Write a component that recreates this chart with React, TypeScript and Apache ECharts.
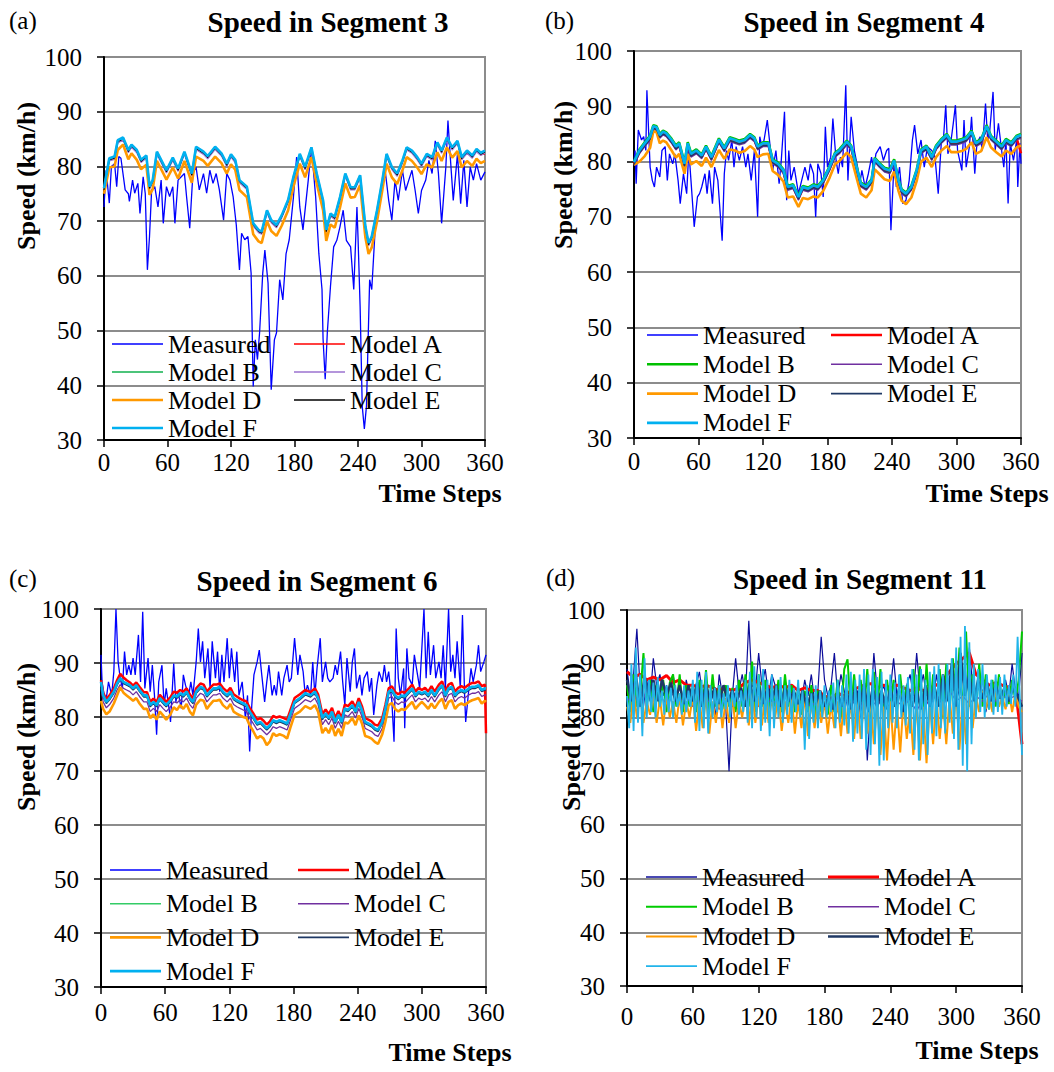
import React, { useEffect, useRef } from 'react';
import * as echarts from 'echarts';

const FONT = "'Liberation Serif', 'Times New Roman', serif";

// ---------------- Panel (a): Segment 3 ----------------
const segA_t = [0,5,10,13,18,23,26,31,35,40,43,46,50,54,59,65,70,76,83,87,94,98,105,111,116,120,124,128,135,141,146,149,154,158,163,168,174,179,185,190,196,201,207,210,214,218,223,228,233,237,242,247,250,253,258,263,267,272,277,282,286,291,296,300,305,310,315,319,324,329,334,338,343,348,352,356,360];
const segA_F = [76,81.5,81.8,84.8,85.3,83,84,83,81.2,82,76.3,77.5,82.7,81.2,79.3,81.6,79.6,82.7,78.7,83.6,82.7,81.9,83.6,82.4,80.5,82.2,81.2,77.5,76.3,69.6,68.4,68.1,72,70.2,69.3,71.1,73.9,78.1,82.3,79.9,83.5,78.7,73.8,68.4,71.4,70.8,74.4,78.7,76.2,76.2,78.4,69,66,67.2,72,77.5,82.3,79.9,78.7,81.1,83.5,82.9,81.7,80.5,82.3,81.7,84.4,82.9,85.3,83.5,84.7,81.7,82.9,82,83.2,82.5,82.9];
const segA_D = [75,79.8,80,83,84,81.3,82.4,81.2,79.5,80.3,74.8,75.8,81,79.5,77.6,79.8,77.8,81,77,81.8,81,80.1,81.8,80.6,78.7,80.4,79.4,75.7,74.4,67.6,66.3,66,70,68.2,67.3,69.2,72,76.3,80.5,78,81.7,76.9,72,66.4,69.4,68.8,72.5,76.9,74.3,74.4,76.6,67,64,65.2,70,75.7,80.5,78,76.8,79.3,81.7,81,79.8,78.6,80.4,79.8,82.6,81,83.5,81.6,82.8,79.8,81,80.1,81.4,80.6,81];
const segA_A = [75.8,81.3,81.5,84.5,85.1,82.8,83.7,82.8,81,81.7,76.1,77.2,82.5,80.9,79.1,81.4,79.3,82.5,78.5,83.3,82.5,81.6,83.4,82.1,80.3,82,80.9,77.3,76,69.4,68.1,67.9,71.7,70,69,70.9,73.6,77.9,82,79.7,83.2,78.5,73.5,68.2,71.1,70.6,74.1,78.5,75.9,76,78.1,68.8,65.7,67,71.7,77.3,82,79.7,78.4,80.9,83.2,82.7,81.4,80.3,82,81.5,84.1,82.7,85,83.3,84.4,81.5,82.6,81.8,82.9,82.3,82.2];
const segA_B = [75.9,81.4,81.7,84.7,85.2,82.9,83.9,82.9,81.1,81.9,76.2,77.4,82.6,81.1,79.2,81.5,79.5,82.6,78.6,83.5,82.6,81.8,83.5,82.3,80.4,82.1,81.1,77.4,76.2,69.5,68.3,68,71.9,70.1,69.2,71,73.8,78,82.2,79.8,83.4,78.6,73.7,68.3,71.3,70.7,74.3,78.6,76.1,76.1,78.3,68.9,65.9,67.1,71.9,77.4,82.2,79.8,78.6,81,83.4,82.8,81.6,80.4,82.2,81.6,84.3,82.8,85.2,83.4,84.6,81.6,82.8,81.9,83.1,82.4,82.8];
const segA_C = [75.6,81,81.3,84.3,84.8,82.5,83.5,82.5,80.7,81.5,75.8,77,82.2,80.7,78.8,81.1,79.1,82.2,78.2,83.1,82.2,81.4,83.1,81.9,80,81.7,80.7,77,75.8,69.1,67.9,67.6,71.5,69.7,68.8,70.6,73.4,77.6,81.8,79.4,83,78.2,73.3,67.9,70.9,70.3,73.9,78.2,75.7,75.7,77.9,68.5,65.5,66.7,71.5,77,81.8,79.4,78.2,80.6,83,82.4,81.2,80,81.8,81.2,83.9,82.4,84.8,83,84.2,81.2,82.4,81.5,82.7,82,82.4];
const segA_E = [75.7,81.2,81.5,84.5,85,82.7,83.7,82.7,80.9,81.7,76,77.2,82.4,80.9,79,81.3,79.3,82.4,78.4,83.3,82.4,81.6,83.3,82.1,80.2,81.9,80.9,77.2,76,69.3,68.1,67.8,71.7,69.9,69,70.8,73.6,77.8,82,79.6,83.2,78.4,73.5,68.1,71.1,70.5,74.1,78.4,75.9,75.9,78.1,68.7,65.7,66.9,71.7,77.2,82,79.6,78.4,80.8,83.2,82.6,81.4,80.2,82,81.4,84.1,82.6,85,83.2,84.4,81.4,82.6,81.7,82.9,82.2,82.6];
const segA_measured = [[0,72.6],[2,79.3],[5,73.3],[7,80],[10,80.5],[12,76.3],[14,81.8],[16,81.5],[20,75.7],[23,75],[24,73.6],[27,77.5],[29,75.1],[32,76.9],[34,71.4],[37,78.1],[39,75],[41,61.1],[43,67.2],[45,75.7],[48,76.3],[51,72.6],[54,77.5],[56,69.6],[59,76.3],[62,74.5],[65,76.3],[67,69.6],[70,77.5],[73,78.1],[76,78.7],[78,74.5],[81,68.7],[84,78.7],[87,79.9],[90,75.7],[94,78.7],[97,75.1],[100,79.3],[103,76.9],[106,78.7],[109,75.7],[113,70.2],[116,78.7],[119,77.5],[122,74.5],[125,69.3],[128,61.1],[130,67.8],[133,66.6],[136,67.2],[139,60.5],[141,39.8],[143,48.3],[145,44.7],[147,49.6],[150,60.5],[152,64.7],[155,58.7],[158,39.2],[161,48.3],[163,49.6],[166,59.3],[169,55.6],[172,64],[175,66.6],[179,74.4],[182,81.7],[185,72.6],[188,68.4],[193,77.5],[196,83.5],[200,74.4],[203,64.1],[206,57.5],[207,48.4],[209,41.1],[211,49.6],[214,58.1],[217,65.3],[220,66.5],[223,69],[226,72],[229,66.5],[233,65.3],[236,57.5],[239,72.6],[240,67.2],[242,54.4],[244,36.2],[246,32],[248,36.2],[251,59.3],[253,57.5],[256,67.8],[259,72.6],[263,76.3],[266,78.7],[269,73.8],[272,70.2],[275,77.5],[278,73.8],[282,79.3],[285,75.6],[288,77.5],[291,79.3],[294,75.6],[297,71.4],[300,75.6],[304,77.5],[307,81.1],[310,78.7],[313,84.7],[316,78.7],[319,69.6],[323,79.9],[325,88.4],[327,82.3],[330,73.8],[334,82.3],[337,73.2],[340,81.1],[343,72.6],[346,79.9],[349,77.5],[352,80.5],[356,77.5],[360,79]];

// ---------------- Panel (b): Segment 4 ----------------
const segB_t = [0,5,10,15,18,21,24,27,30,35,39,42,47,50,53,58,63,67,72,79,84,89,94,98,103,108,112,115,120,125,129,134,139,143,148,153,157,162,167,171,176,182,187,191,198,202,207,211,216,221,224,228,233,238,242,246,249,253,258,263,267,272,277,281,286,291,295,300,305,309,314,318,323,328,332,337,342,346,351,356,360];
const segB_F = [79.9,82,83.3,84.5,86.4,86.2,84.8,85.4,85.1,83.9,82.7,83.3,79.6,83.3,81.4,82,81.1,82.7,80.8,84,82.4,84.2,83.9,83.6,83.9,84.8,84.2,82.7,83.3,83.3,80.2,79.6,78.4,75.4,75.7,73.6,75.4,75.1,75.7,75.4,76.6,79,81.4,82,83.6,82.7,79,76,75.4,76.6,80.5,79.6,78.7,78.4,80.2,76.6,74.8,74.2,75.4,78.4,82,82.7,80.8,82.7,83.9,84.8,83.6,83.6,83.9,84.2,85.4,83.3,83.9,86.4,84.5,83.6,82.7,83.9,83.3,84.5,84.8];
const segB_D = [79.4,80,81,82.5,85.5,85.3,83.3,83.8,83.5,82,80.7,81.4,77.8,81.4,79.5,80.1,79.2,80.7,79,82.1,80.5,82.2,82,81.6,81.9,82.8,82.2,80.8,81.3,81.4,78.3,77.6,76.4,73.5,73.7,71.8,73.4,73.2,73.7,73.5,74.7,77.1,79.5,80.1,81.6,80.8,77.1,74.2,73.5,74.8,78.6,77.8,76.8,76.5,78.2,74.7,72.9,72.3,73.5,76.5,80,80.7,79,80.8,82,82.8,81.7,81.7,81.9,82.3,83.5,81.4,81.9,84.4,82.6,81.7,80.9,82,81.4,82.6,82.9];
const segB_A = [79.6,81.7,83,84.2,86.1,85.9,84.5,85.1,84.8,83.6,82.4,83,79.3,83,81.1,81.7,80.8,82.4,80.5,83.7,82.1,83.9,83.6,83.3,83.6,84.5,83.9,82.4,83,83,79.9,79.3,78.1,75.1,75.4,73.3,75.1,74.8,75.4,75.1,76.3,78.7,81.1,81.7,83.3,82.4,78.7,75.7,75.1,76.3,80.2,79.3,78.4,78.1,79.9,76.3,74.5,73.9,75.1,78.1,81.7,82.4,80.5,82.4,83.6,84.5,83.3,83.3,83.6,83.9,85.1,83,83.6,86.1,84.2,83.3,82.4,83.6,83,84.2,81.5];
const segB_B = [80,82.2,83.5,84.7,86.6,86.4,85,85.6,85.3,84.1,82.9,83.5,79.8,83.5,81.6,82.2,81.3,82.9,81,84.2,82.6,84.4,84.1,83.8,84.1,85,84.4,82.9,83.5,83.5,80.4,79.8,78.6,75.6,75.9,73.8,75.6,75.3,75.9,75.6,76.8,79.2,81.6,82.2,83.8,82.9,79.2,76.2,75.6,76.8,80.7,79.8,78.9,78.6,80.4,76.8,75,74.4,75.6,78.6,82.2,82.9,81,82.9,84.1,85,83.8,83.8,84.1,84.4,85.6,83.5,84.1,86.6,84.7,83.8,82.9,84.1,83.5,84.7,85];
const segB_C = [79.3,81.4,82.7,83.9,85.8,85.6,84.2,84.8,84.5,83.3,82.1,82.7,79,82.7,80.8,81.4,80.5,82.1,80.2,83.4,81.8,83.6,83.3,83,83.3,84.2,83.6,82.1,82.7,82.7,79.6,79,77.8,74.8,75.1,73,74.8,74.5,75.1,74.8,76,78.4,80.8,81.4,83,82.1,78.4,75.4,74.8,76,79.9,79,78.1,77.8,79.6,76,74.2,73.6,74.8,77.8,81.4,82.1,80.2,82.1,83.3,84.2,83,83,83.3,83.6,84.8,82.7,83.3,85.8,83.9,83,82.1,83.3,82.7,83.9,84.2];
const segB_E = [79.5,81.6,82.9,84.1,86,85.8,84.4,85,84.7,83.5,82.3,82.9,79.2,82.9,81,81.6,80.7,82.3,80.4,83.6,82,83.8,83.5,83.2,83.5,84.4,83.8,82.3,82.9,82.9,79.8,79.2,78,75,75.3,73.2,75,74.7,75.3,75,76.2,78.6,81,81.6,83.2,82.3,78.6,75.6,75,76.2,80.1,79.2,78.3,78,79.8,76.2,74.4,73.8,75,78,81.6,82.3,80.4,82.3,83.5,84.4,83.2,83.2,83.5,83.8,85,82.9,83.5,86,84.1,83.2,82.3,83.5,82.9,84.1,84.4];
const segB_measured = [[0,80],[1,82],[2,76],[4,85.7],[7,83.9],[9,84.5],[11,82],[12,92.9],[15,79],[17,76.6],[19,75.4],[21,79],[24,77.2],[26,82],[29,82.7],[31,76.6],[33,81.4],[36,79.6],[38,81.4],[41,76.6],[43,72.4],[46,77.8],[49,74.2],[51,82],[53,76.6],[56,68.2],[59,73.6],[61,74.2],[63,75.4],[66,77.8],[68,74.2],[70,78.4],[73,72.4],[75,79],[78,76.6],[82,65.7],[84,77.8],[86,82],[88,80.2],[91,83.9],[93,79],[95,82.7],[98,80.2],[101,82.7],[104,79],[106,81.4],[109,76.6],[112,82],[115,70],[117,84.5],[119,82.7],[121,83.9],[124,87.5],[126,83.9],[129,78.4],[132,82],[135,76],[137,80.2],[140,89],[142,73],[144,82],[146,76.6],[149,79],[153,74.2],[156,76.6],[159,79],[162,76.6],[164,79.6],[167,77.8],[169,70],[171,79.6],[174,77.8],[176,73.6],[178,86.3],[180,79],[183,80.8],[185,87.8],[188,80.2],[190,77.8],[192,80.8],[194,79],[197,93.8],[199,76.6],[202,88.1],[205,82],[208,79],[210,76],[212,78.4],[215,75.4],[218,77.8],[221,80.8],[223,78.4],[225,81.4],[229,82.7],[232,80.2],[235,82],[237,82.4],[239,67.6],[242,80.2],[244,75.4],[247,79],[250,72.4],[253,73],[256,76.6],[259,83.9],[261,86.6],[264,81.4],[267,83.9],[270,79],[273,82.7],[277,82],[280,80.8],[283,74.2],[286,83.9],[288,84.5],[290,90.2],[292,81.4],[295,83.9],[297,86.9],[299,90.2],[301,82],[305,78.4],[307,87.5],[309,79],[312,82.7],[314,88.1],[317,77.8],[319,83.3],[322,84.5],[324,82],[327,90.5],[329,83.9],[331,85.7],[334,92.6],[336,82],[339,86.9],[342,82],[344,79],[346,83.9],[348,72.4],[350,83.3],[353,80.2],[356,83.9],[357,75.4],[359,83.3],[360,79.6]];

// ---------------- Panel (c): Segment 6 ----------------
const segC_t = [0,2,5,8,12,15,18,21,24,27,30,33,36,40,43,46,49,52,55,58,61,65,68,71,74,77,80,83,86,89,93,96,99,102,105,108,111,114,118,121,124,127,130,133,136,139,142,146,149,152,155,158,161,164,167,171,174,177,181,186,191,196,200,203,207,210,213,216,219,222,225,228,231,235,238,241,244,247,250,253,256,259,263,266,269,272,275,278,281,284,288,291,294,297,300,303,306,309,312,316,319,322,325,328,331,334,337,340,344,347,350,353,356,359,360];
const segC_F = [86.5,84,82.8,83.5,84.7,86.2,87.2,86.5,86.2,85.9,85.3,85.9,85,84,84,82.2,82.8,82.2,83.5,82.8,82.2,83.1,84,83.8,84.4,84,84.7,83.5,82.8,84.7,85.6,85.3,84,84.7,85.3,85.3,85.6,84.7,84,84.7,83.5,83.1,82.8,82.5,82.2,81,80.1,78.8,79.1,78.5,77.9,78.5,79.4,79.1,79.4,79.1,78.8,80.5,82.8,83.5,84.4,84,84.7,83.5,79.8,80.7,79.8,81,79.1,80.4,79.1,81.6,81.3,82.2,81,82.8,81.3,79.1,78.8,78.5,77.9,77.6,79.1,81.6,84.7,85,84,83.5,84,83.8,84.7,85.3,84,84.7,84.4,84.7,84,85,84,85.3,85.9,84,85.3,85.6,84,84.7,85,84.7,85.3,85.6,85.6,85.9,85,85.3,85.3];
const segC_D = [83,81.5,80.5,81,82.5,84,85.5,84.5,84,83.5,83,83.5,82.5,81.5,81.5,79.8,80.5,79.5,81,80.3,79.5,80.5,81.8,81.3,82.2,81.5,82.4,81,80.3,82.3,83.2,83,81.5,82.3,83,83,83.2,82.2,81.5,82.4,81,80.6,80.3,80,79.8,78.5,77.5,76,76.5,76,74.8,75.5,77,76.5,76.8,76.5,76,78,80.4,81,82,81.5,82.2,81,77,78,77,78.5,76.5,77.8,76.5,79,78.8,79.8,78.5,80.3,78.8,76.5,76.3,76,75.4,75,76.8,79.2,82.2,82.6,81.5,81,81.5,81.3,82.2,82.8,81.5,82.2,82.8,82.2,81.5,82.5,81.6,82.8,83.4,81.5,82.8,83.1,81.5,82.2,82.5,82.2,82.8,83.1,83.3,83.5,82.5,83,82.8];
const segC_A = [86.8,84.5,83.3,84,85.3,86.8,88,87.3,86.8,86.4,85.8,86.4,85.6,84.6,84.6,82.8,83.4,82.8,84.1,83.4,82.8,83.7,84.7,84.5,85,84.7,85.3,84.2,83.4,85.3,86.2,86,84.7,85.4,86,86,86.2,85.4,84.7,85.4,84.2,83.8,83.4,83.1,82.9,81.7,80.8,79.5,79.8,79.3,78.6,79.2,80.2,79.9,80.1,79.8,79.5,81.2,83.5,84.2,85,84.6,85.3,84.2,80.5,81.4,80.5,81.7,79.8,81.1,79.8,82.3,82,82.9,81.7,83.5,82,79.8,79.5,79.2,78.6,78.4,79.8,82.3,85.3,85.7,84.6,84.2,84.7,84.5,85.3,86,84.7,85.4,85,85.4,84.7,85.7,84.7,86,86.6,84.7,86,86.3,84.7,85.4,85.7,85.4,86,86.3,86.3,86.6,85.7,86,77];
const segC_B = [86.3,83.9,82.6,83.3,84.5,86,87,86.3,86,85.7,85.1,85.7,84.8,83.8,83.8,82,82.6,82,83.3,82.6,82,82.9,83.8,83.6,84.2,83.8,84.5,83.3,82.6,84.5,85.4,85.1,83.8,84.5,85.1,85.1,85.4,84.5,83.8,84.5,83.3,82.9,82.6,82.3,82,80.8,79.9,78.6,78.9,78.3,77.7,78.3,79.2,78.9,79.2,78.9,78.6,80.3,82.6,83.3,84.2,83.8,84.5,83.3,79.6,80.5,79.6,80.8,78.9,80.2,78.9,81.4,81.1,82,80.8,82.6,81.1,78.9,78.6,78.3,77.7,77.4,78.9,81.4,84.5,84.8,83.8,83.3,83.8,83.6,84.5,85.1,83.8,84.5,84.2,84.5,83.8,84.8,83.8,85.1,85.7,83.8,85.1,85.4,83.8,84.5,84.8,84.5,85.1,85.4,85.4,85.7,84.8,85.1,85.1];
const segC_C = [85.3,82.8,81.7,82.3,83.5,85,86,85.3,85,84.7,84.1,84.7,83.8,82.8,82.8,81,81.6,81,82.3,81.6,81,81.9,82.8,82.6,83.2,82.8,83.5,82.3,81.6,83.5,84.4,84.1,82.8,83.5,84.1,84.1,84.4,83.5,82.8,83.5,82.3,81.9,81.6,81.3,81,79.8,78.9,77.6,77.9,77.3,76.7,77.3,78.2,77.9,78.2,77.9,77.6,79.3,81.6,82.3,83.2,82.8,83.5,82.3,78.6,79.5,78.6,79.8,77.9,79.2,77.9,80.4,80.1,81,79.8,81.6,80.1,77.9,77.6,77.3,76.7,76.4,77.9,80.4,83.5,83.8,82.8,82.3,82.8,82.6,83.5,84.1,82.8,83.5,83.2,83.5,82.8,83.8,82.8,84.1,84.7,82.8,84.1,84.4,82.8,83.5,83.8,83.5,84.1,84.4,84.4,84.7,83.8,84.1,84.1];
const segC_E = [86.2,83.7,82.5,83.2,84.4,85.9,86.9,86.2,85.9,85.6,85,85.6,84.7,83.7,83.7,81.9,82.5,81.9,83.2,82.5,81.9,82.8,83.7,83.5,84.1,83.7,84.4,83.2,82.5,84.4,85.3,85,83.7,84.4,85,85,85.3,84.4,83.7,84.4,83.2,82.8,82.5,82.2,81.9,80.7,79.8,78.5,78.8,78.2,77.6,78.2,79.1,78.8,79.1,78.8,78.5,80.2,82.5,83.2,84.1,83.7,84.4,83.2,79.5,80.4,79.5,80.7,78.8,80.1,78.8,81.3,81,81.9,80.7,82.5,81,78.8,78.5,78.2,77.6,77.3,78.8,81.3,84.4,84.7,83.7,83.2,83.7,83.5,84.4,85,83.7,84.4,84.1,84.4,83.7,84.7,83.7,85,85.6,83.7,85,85.3,83.7,84.4,84.7,84.4,85,85.3,85.3,85.6,84.7,85,85];
const segC_measured = [[0,91.5],[1,86.5],[3,84],[5,83.5],[7,86.5],[10,84],[12,88.4],[14,100],[16,90.2],[18,87.2],[20,85.3],[22,92.1],[24,87.8],[26,89.6],[28,87.8],[30,90.9],[32,87.8],[35,95.2],[37,86.5],[39,99.5],[41,85.3],[44,90.9],[46,84.7],[48,89.6],[50,84],[52,76.7],[54,86.5],[57,89.6],[59,82.2],[61,85.3],[64,81],[65,79.1],[68,89.9],[70,82.8],[72,84.7],[75,81.6],[77,87.8],[79,85.9],[82,84],[84,86.5],[86,84],[89,90.2],[91,96.4],[93,90.2],[95,94],[97,87.2],[100,92.7],[102,85.3],[104,94],[107,87.2],[109,92.1],[111,84.7],[113,91.5],[115,86.5],[118,94.6],[120,87.2],[122,92.7],[125,86.5],[127,92.1],[129,84],[132,86.5],[135,79.8],[137,84],[139,73.6],[141,82.2],[143,87.8],[146,90.2],[148,92.4],[150,88.4],[153,82.8],[155,86.5],[157,89.6],[160,84],[162,85.9],[164,84],[166,88.4],[169,84],[171,87.2],[174,89.6],[176,86.5],[178,87.2],[181,94.6],[184,87.8],[186,91.5],[189,88.4],[191,84],[193,85.9],[196,84],[198,90.2],[200,84],[202,89],[205,94.6],[207,86.5],[210,90.2],[212,87.2],[214,86.5],[217,87.2],[219,89.6],[221,87.8],[224,92.1],[226,86.5],[228,82.2],[230,90.9],[233,84.7],[235,90.2],[237,92.7],[239,85.3],[242,87.8],[244,84],[246,87.2],[249,88.4],[251,84.7],[253,87.2],[255,80.4],[258,85.9],[260,88.4],[263,86.5],[265,89.6],[267,86.5],[269,88.4],[272,82.8],[274,75.4],[276,96.4],[278,87.2],[280,84],[283,89],[284,77.9],[286,92.7],[288,87.2],[291,85.9],[293,91.5],[295,89],[298,85.3],[300,92.7],[302,100],[304,87.2],[306,95.8],[308,87.8],[311,93.3],[313,87.2],[316,90.2],[318,87.2],[320,93.3],[322,85.3],[325,100],[327,88.4],[329,91.5],[331,87.2],[333,94],[336,85.3],[338,98.9],[340,84],[341,79.1],[344,85.3],[346,89],[348,86.5],[351,89.6],[353,93.3],[355,88.4],[358,90.2],[360,91.5]];

// ---------------- Panel (d): Segment 11 (regularly sampled) ----------------
const segD_F_step = 2;
const segD_F = [84,78,90,77.5,93,79,88,76.5,91,80,87,81,86.5,80,87.5,82,85,80.5,86,81,85.5,80,86,82,84.5,80.5,86,81,85,82,87,79,88.5,77.5,87,78,88.5,77,86,80,85.5,81,86,80,84.5,81.5,86,80,85,82,86,80.5,85,81,87,79,88.5,78,89.5,80,88,77.5,89,79,87,76.5,88,78,86,80,87.5,79,86,80.5,87,79,85.5,81,87,80,85,74,86,76,84.5,79,86,78,85,80,86,80,85,81,86.5,78,87,79,86,78.5,88,77,88.5,75.5,87,77,88,76,89,74,88,73,89,75,87.5,71,88.5,72,87,78,88,79,86.5,78,88,80,86,78.5,87.5,77,89,74,88,72,89,75,87,73,88.5,77,89.5,76.5,90,78,88,77,90,79,91,76,93,74,95,71,97,70,94,75,90,80,89,81,90,80,88,81.5,87,80.5,88,81,87.5,80.5,88,82,86,82.5,88,82,95,84,73];
const segD_D_step = 3;
const segD_D = [82,79,85,80,84.5,79,83,80.5,84,79,83.5,78.5,84,80,83,79,84,78.5,83,80,84,77.5,83.5,78,84,77,83,79,84,78,83.5,79,84,78,83,80,84.5,78.5,85,79,84,78.5,85,79,83.5,80,84,77.5,83,79,84,77,83,78,84,76.5,83,78,83.5,79,83,77,82.5,78,83,76.5,84,77,83,76,84,76,83,77,83.5,75,83,73,82,72,83,74,82.5,73.5,83,76,82,73,83,72,82,71.5,83,75,84,76,83,75,84,77,85,74,84,75,85,78,84,81,85,81.5,84.5,81,85,82,84,81.5,85,81,84.5,82,81];
const segD_B_step = 3;
const segD_B = [86,81,88,82,84,92,82,87,81,86,82,87,81,86.5,88,82,88,81,86,82,86,81,87,82,88.8,81,88,82,86,81.5,86,82,85.5,81,87,82,88,82,90.4,81,88,82,87,81.5,86,82,87,81,88,82,86,81,85.5,80.5,85,81,86,80,85,81,85,80.5,86,81,87,80,89,90.8,81,88,82,87,81,89,80,88.5,81,89,80,87,82,87,81,88,82,86,80,89,81,89.5,80,90,81,88,82,89,80,90,81,91,82,93,80,96,82,88,81,90,82,88,81.5,87,82,88,82,86,82.5,87,83,87,96];
const segD_A_step = 6;
const segD_A = [88.5,87.5,88,87,87.5,87,87.8,86.5,87,86,86,85.5,86,85.5,85,85.5,85,85.5,86.5,87,86.5,86,85.5,86,85.5,86,85,85.5,85,85,84,83.5,84.5,84,85,85.5,86,86.3,85.5,86,85.5,86,85.5,85,85.5,85,85.5,86,87,88.5,90,91,92,88,87,86,86.5,86,85.6,85.5,75];
const segD_E_step = 4;
const segD_E = [87,83,88,82,87.5,84,87,83,87,84,86.5,83,86,82.5,86,83,86.5,82,86,83,85.5,82.5,86,83,85,83,85.5,82,86.5,83,86,82.5,85.5,83,86,82,85.5,83,85,82.5,85,82,84.5,82.5,85,82,84,81.5,84.5,82,85,81.5,85.5,82,86,81,85.5,82,85,81.5,85.5,82,85,81,85.5,82,85,81.5,86,82,86,82,88,83,90,82,92,84,88,83,87,83.5,86.5,83,86,83.5,85.5,83,85.5,84,82];
const segD_C_step = 6;
const segD_C = [83,84.5,82,85,83,84,82.5,84.5,83,84,82,83.5,82.5,84,81.5,83.5,82,84,82.5,84.5,82,84,82.5,83.5,82,84,81.5,83,82,83.5,81.5,83,81,83.5,82,84,81.5,83.5,82,84,81.5,83,82,83.5,81,84,82,84.5,82,85,83,84,82.5,84,83,84.5,83,84,83.5,84,83];
const segD_M_step = 3;
const segD_measured = [89,84,88,96.5,85,82,87,83,91,86,88,84,86,83,88,84,86,82,87,84,83,86,88.5,84,87,82,85,80,88,84,82,70,84,91,85,88,84,98,86,85,92,86,89,84,88,86,85,82,87,84,86,82,85,83,87,84,88,83,85,95,87,84,86,92,84,88,85,82,86,84,85,80,86,72,82,92,85,84,86,83,85,91,84,87,83,86,88,84,92,85,88,84,86,83,88,84,86,83,87,85,86,84,88,85,93,86,84,86,85,81,84,86,83,85,84,87,84,90,85,84,92];

// ---------------- Layout / style ----------------
const SERIES_NAMES = ['Measured', 'Model A', 'Model B', 'Model C', 'Model D', 'Model E', 'Model F'];
const LEGEND_COL1 = ['Measured', 'Model B', 'Model D', 'Model F'];
const LEGEND_COL2 = ['Model A', 'Model C', 'Model E'];

const zipT = (ts: number[], vs: number[]) =>
  ts.map((t, i) => [t, vs[i]]).filter((p) => p[1] !== undefined);
const stepped = (vs: number[], step: number) => vs.map((v, i) => [i * step, v]);

const PANELS = [
  {
    key: 'a',
    grid: { left: 104, top: 57, width: 381, height: 383 },
    xMargin: 10,
    label: { text: '(a)', x: 9, y: 20 },
    title: { text: 'Speed in Segment 3', x: 328, y: 22 },
    xName: { x: 440, y: 493 },
    yName: { x: 26, y: 176 },
    legend: { c1: 112, c2: 294, first: 344, pitch: 28 },
    colors: ['#0000ff', '#ff0000', '#4cc47a', '#9b72cf', '#ff9900', '#000000', '#00b0f0'],
    widths: [1.3, 1.3, 2, 1.3, 2.6, 1, 2.6],
    data: [
      segA_measured,
      zipT(segA_t, segA_A),
      zipT(segA_t, segA_B),
      zipT(segA_t, segA_C),
      zipT(segA_t, segA_D),
      zipT(segA_t, segA_E),
      zipT(segA_t, segA_F),
    ],
  },
  {
    key: 'b',
    grid: { left: 634, top: 51, width: 387, height: 387 },
    xMargin: 11,
    label: { text: '(b)', x: 545, y: 20 },
    title: { text: 'Speed in Segment 4', x: 864, y: 22 },
    xName: { x: 987, y: 493 },
    yName: { x: 563, y: 175 },
    legend: { c1: 647, c2: 831, first: 335, pitch: 29.3 },
    colors: ['#0000ff', '#ff0000', '#00c000', '#7030a0', '#ff9900', '#1f3864', '#00b0f0'],
    widths: [1.3, 2.5, 2.5, 1.3, 2.6, 1.5, 2.6],
    data: [
      segB_measured,
      zipT(segB_t, segB_A),
      zipT(segB_t, segB_B),
      zipT(segB_t, segB_C),
      zipT(segB_t, segB_D),
      zipT(segB_t, segB_E),
      zipT(segB_t, segB_F),
    ],
  },
  {
    key: 'c',
    grid: { left: 101, top: 609, width: 385, height: 378 },
    xMargin: 13,
    label: { text: '(c)', x: 9, y: 578 },
    title: { text: 'Speed in Segment 6', x: 317, y: 581 },
    xName: { x: 450, y: 1052 },
    yName: { x: 26, y: 737 },
    legend: { c1: 110, c2: 298, first: 870, pitch: 33.7 },
    colors: ['#0000ff', '#ff0000', '#33cc66', '#7030a0', '#ff9900', '#1f3864', '#00b0f0'],
    widths: [1.3, 2.5, 1.5, 1.3, 2.6, 1.5, 2.6],
    data: [
      segC_measured,
      zipT(segC_t, segC_A),
      zipT(segC_t, segC_B),
      zipT(segC_t, segC_C),
      zipT(segC_t, segC_D),
      zipT(segC_t, segC_E),
      zipT(segC_t, segC_F),
    ],
  },
  {
    key: 'd',
    grid: { left: 627, top: 610, width: 395, height: 376 },
    xMargin: 18,
    label: { text: '(d)', x: 546, y: 577 },
    title: { text: 'Speed in Segment 11', x: 860, y: 579 },
    xName: { x: 977, y: 1050 },
    yName: { x: 571, y: 737 },
    legend: { c1: 646, c2: 828, first: 877, pitch: 29.7 },
    colors: ['#0c0c9a', '#ff0000', '#00cc00', '#7030a0', '#ff9900', '#1f3864', '#22b4ea'],
    widths: [1.2, 3, 2, 1.2, 2, 2.5, 1.8],
    data: [
      stepped(segD_measured, segD_M_step),
      stepped(segD_A, segD_A_step),
      stepped(segD_B, segD_B_step),
      stepped(segD_C, segD_C_step),
      stepped(segD_D, segD_D_step),
      stepped(segD_E, segD_E_step),
      stepped(segD_F, segD_F_step),
    ],
  },
];

function buildOption() {
  const grid: any[] = [];
  const xAxis: any[] = [];
  const yAxis: any[] = [];
  const series: any[] = [];
  const legend: any[] = [];
  const graphic: any[] = [];

  const axisLine = { show: true, onZero: false, lineStyle: { color: '#000', width: 2 } };
  const axisTick = { show: true, inside: false, length: 7, lineStyle: { color: '#000', width: 1.5 } };
  const labelText = { fontSize: 25, fontFamily: FONT, color: '#000' };

  PANELS.forEach((p, gi) => {
    grid.push({
      ...p.grid,
      show: true,
      borderColor: '#8c8c8c',
      borderWidth: 2,
      backgroundColor: 'transparent',
      containLabel: false,
    });
    xAxis.push({
      type: 'value',
      gridIndex: gi,
      min: 0,
      max: 360,
      interval: 60,
      axisLine,
      axisTick,
      axisLabel: { ...labelText, margin: p.xMargin, showMinLabel: true, showMaxLabel: true },
      splitLine: { show: false },
    });
    yAxis.push({
      type: 'value',
      gridIndex: gi,
      min: 30,
      max: 100,
      interval: 10,
      axisLine,
      axisTick,
      axisLabel: { ...labelText, margin: 22 },
      splitLine: { show: true, lineStyle: { color: '#8c8c8c', width: 2 } },
    });

    SERIES_NAMES.forEach((nm, si) => {
      series.push({
        type: 'line',
        name: p.key + '|' + nm,
        xAxisIndex: gi,
        yAxisIndex: gi,
        data: p.data[si],
        symbol: 'none',
        showSymbol: false,
        silent: true,
        clip: true,
        lineStyle: { color: p.colors[si], width: p.widths[si] },
        itemStyle: { color: p.colors[si] },
        emphasis: { disabled: true },
      });
    });

    // one legend per entry so that each sample line has the series' own thickness
    const addLegend = (nm: string, col: number, row: number) => {
      const si = SERIES_NAMES.indexOf(nm);
      legend.push({
        orient: 'vertical',
        left: col,
        top: p.legend.first + row * p.legend.pitch - 13,
        icon: 'rect',
        itemWidth: 51,
        itemHeight: Math.max(1.6, p.widths[si]),
        itemGap: 0,
        padding: 0,
        selectedMode: false,
        formatter: (n: string) => n.split('|')[1],
        textStyle: { fontSize: 26, fontFamily: FONT, color: '#000' },
        data: [p.key + '|' + nm],
      });
    };
    LEGEND_COL1.forEach((nm, r) => addLegend(nm, p.legend.c1, r));
    LEGEND_COL2.forEach((nm, r) => addLegend(nm, p.legend.c2, r));

    graphic.push({
      type: 'text',
      x: p.label.x,
      y: p.label.y,
      style: { text: p.label.text, fontSize: 25, fontFamily: FONT, fill: '#000', align: 'left', verticalAlign: 'middle' },
    });
    graphic.push({
      type: 'text',
      x: p.title.x,
      y: p.title.y,
      style: { text: p.title.text, fontSize: 29, fontWeight: 'bold', fontFamily: FONT, fill: '#000', align: 'center', verticalAlign: 'middle' },
    });
    graphic.push({
      type: 'text',
      x: p.xName.x,
      y: p.xName.y,
      style: { text: 'Time Steps', fontSize: 26, fontWeight: 'bold', fontFamily: FONT, fill: '#000', align: 'center', verticalAlign: 'middle' },
    });
    graphic.push({
      type: 'text',
      x: p.yName.x,
      y: p.yName.y,
      rotation: Math.PI / 2,
      style: { text: 'Speed (km/h)', fontSize: 26, fontWeight: 'bold', fontFamily: FONT, fill: '#000', align: 'center', verticalAlign: 'middle' },
    });
  });

  return {
    animation: false,
    backgroundColor: '#ffffff',
    textStyle: { fontFamily: FONT },
    grid,
    xAxis,
    yAxis,
    legend,
    series,
    graphic,
  };
}

export default function App() {
  const ref = useRef<HTMLDivElement>(null);
  useEffect(() => {
    if (!ref.current) return;
    const chart = echarts.init(ref.current, null, { renderer: 'svg' });
    chart.setOption(buildOption() as any);
    return () => chart.dispose();
  }, []);
  return (
    <div
      ref={ref}
      style={{ position: 'absolute', left: 0, top: 0, width: 1054, height: 1072, background: '#fff' }}
    />
  );
}
